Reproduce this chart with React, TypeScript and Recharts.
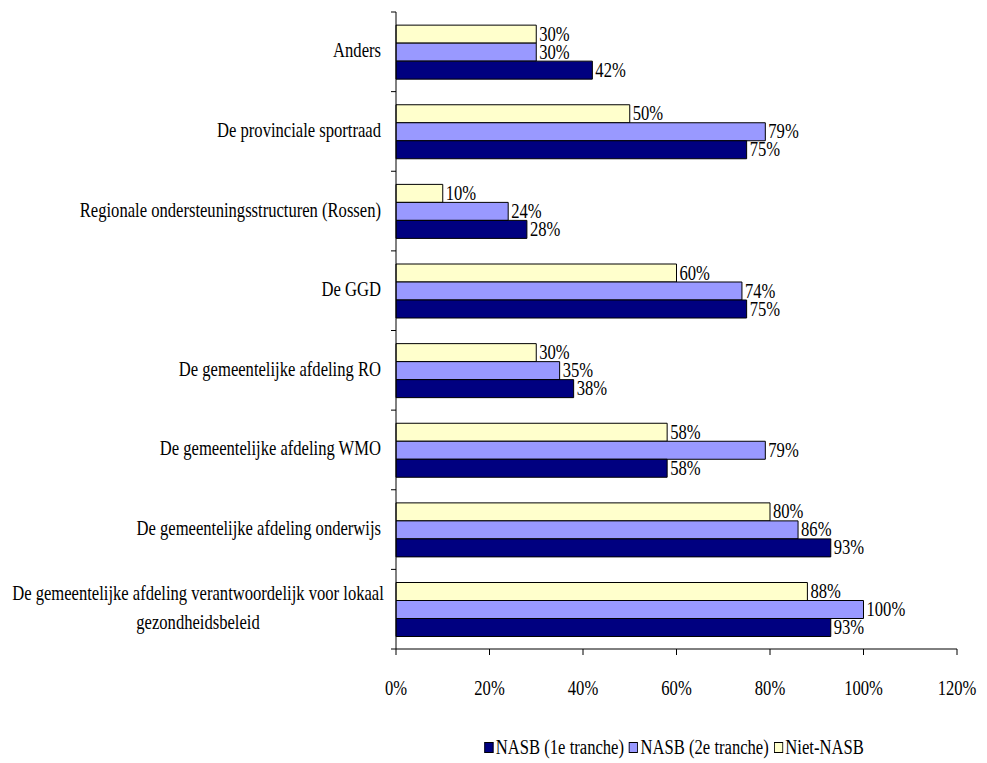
import React from 'react';
import { BarChart, Bar, XAxis, YAxis, Legend, LabelList } from 'recharts';

const categories = [
  'Anders',
  'De provinciale sportraad',
  'Regionale ondersteuningsstructuren (Rossen)',
  'De GGD',
  'De gemeentelijke afdeling RO',
  'De gemeentelijke afdeling WMO',
  'De gemeentelijke afdeling onderwijs',
  'De gemeentelijke afdeling verantwoordelijk voor lokaal gezondheidsbeleid',
];
const nasb1 = [42, 75, 28, 75, 38, 58, 93, 93];
const nasb2 = [30, 79, 24, 74, 35, 79, 86, 100];
const nietNasb = [30, 50, 10, 60, 30, 58, 80, 88];
const xTicks = [0, 20, 40, 60, 80, 100, 120];

const series = [
  { key: 'nasb1', name: 'NASB (1e tranche)', color: '#000080' },
  { key: 'nasb2', name: 'NASB (2e tranche)', color: '#9999FF' },
  { key: 'niet', name: 'Niet-NASB', color: '#FFFFCC' },
];

const data = categories.map((name, i) => ({
  name,
  nasb1: nasb1[i],
  nasb2: nasb2[i],
  niet: nietNasb[i],
}));

const W = 979;
const H = 755;
const margin = { top: 4, right: 30, bottom: 4, left: 0 };
const FONT = 'Liberation Serif';
const FS = 20;
const SX = 0.83;
const plotTop = 4;
const plotBottom = 641;
const band = (plotBottom - plotTop) / categories.length;

function wrap(text: string, max: number) {
  const words = text.split(' ');
  const lines: string[] = [];
  let cur = '';
  words.forEach((w) => {
    const next = cur ? cur + ' ' + w : w;
    if (next.length > max && cur) {
      lines.push(cur);
      cur = w;
    } else cur = next;
  });
  if (cur) lines.push(cur);
  return lines;
}

// condensed Times-like text
const CText = ({ x, y, anchor = 'start', baseline = 'central', children }: any) => (
  <text
    transform={`translate(${x},${y}) scale(${SX},1)`}
    textAnchor={anchor}
    dominantBaseline={baseline}
    style={{ fontFamily: FONT, fontSize: FS }}
    fill="#000"
  >
    {children}
  </text>
);

const CategoryTick = (props: any) => {
  const { x, y, payload, index } = props;
  const lines = wrap(payload.value, 55);
  const multi = lines.length > 1;
  const lh = 29;
  const startY = y - ((lines.length - 1) * lh) / 2 - 1;
  return (
    <g>
      <line x1={x + 3} x2={x + 8} y1={y - band / 2} y2={y - band / 2} stroke="#000" />
      {index === categories.length - 1 && (
        <line x1={x + 3} x2={x + 8} y1={y + band / 2} y2={y + band / 2} stroke="#000" />
      )}
      {lines.map((l, i) => (
        <CText key={i} x={multi ? 190 : x - 7} y={startY + i * lh} anchor={multi ? 'middle' : 'end'}>
          {l}
        </CText>
      ))}
    </g>
  );
};

const PercentTick = (props: any) => {
  const { x, y, payload } = props;
  return (
    <CText x={x} y={y} anchor="middle" baseline="alphabetic">
      {payload.value}%
    </CText>
  );
};

const ValueLabel = (props: any) => {
  const { x, y, width, height, value } = props;
  return (
    <CText x={x + width + 3} y={y + height / 2}>
      {value}%
    </CText>
  );
};

const LegendContent = () => (
  <div
    style={{
      display: 'flex',
      justifyContent: 'center',
      fontFamily: FONT,
      fontSize: FS,
      lineHeight: '23px',
      color: '#000',
      whiteSpace: 'nowrap',
      transform: `scaleX(${SX})`,
      transformOrigin: 'center',
    }}
  >
    {series.map((s) => (
      <span key={s.key} style={{ display: 'inline-flex', alignItems: 'center', marginRight: 6 }}>
        <span
          style={{
            display: 'inline-block',
            width: 9,
            height: 9,
            background: s.color,
            border: '1px solid #000',
            marginRight: 3,
          }}
        />
        {s.name}
      </span>
    ))}
  </div>
);

export default function App() {
  const drawOrder = [...series].reverse();
  return (
    <BarChart
      width={W}
      height={H}
      data={data}
      layout="vertical"
      margin={margin}
      barCategoryGap="16.5%"
      barGap={0}
    >
      <XAxis
        type="number"
        domain={[0, 120]}
        ticks={xTicks}
        axisLine={{ stroke: '#000' }}
        tickLine={{ stroke: '#000' }}
        tickSize={6}
        tickMargin={40}
        height={87}
        tick={<PercentTick />}
      />
      <YAxis
        type="category"
        dataKey="name"
        width={388}
        axisLine={{ stroke: '#000' }}
        tickLine={false}
        interval={0}
        tick={<CategoryTick />}
      />
      <Legend
        verticalAlign="bottom"
        wrapperStyle={{ left: 388, width: 561 }}
        content={<LegendContent />}
      />
      {drawOrder.map((s) => (
        <Bar
          key={s.key}
          dataKey={s.key}
          name={s.name}
          fill={s.color}
          stroke="#000"
          strokeWidth={1}
          isAnimationActive={false}
        >
          <LabelList dataKey={s.key} content={<ValueLabel />} />
        </Bar>
      ))}
    </BarChart>
  );
}
